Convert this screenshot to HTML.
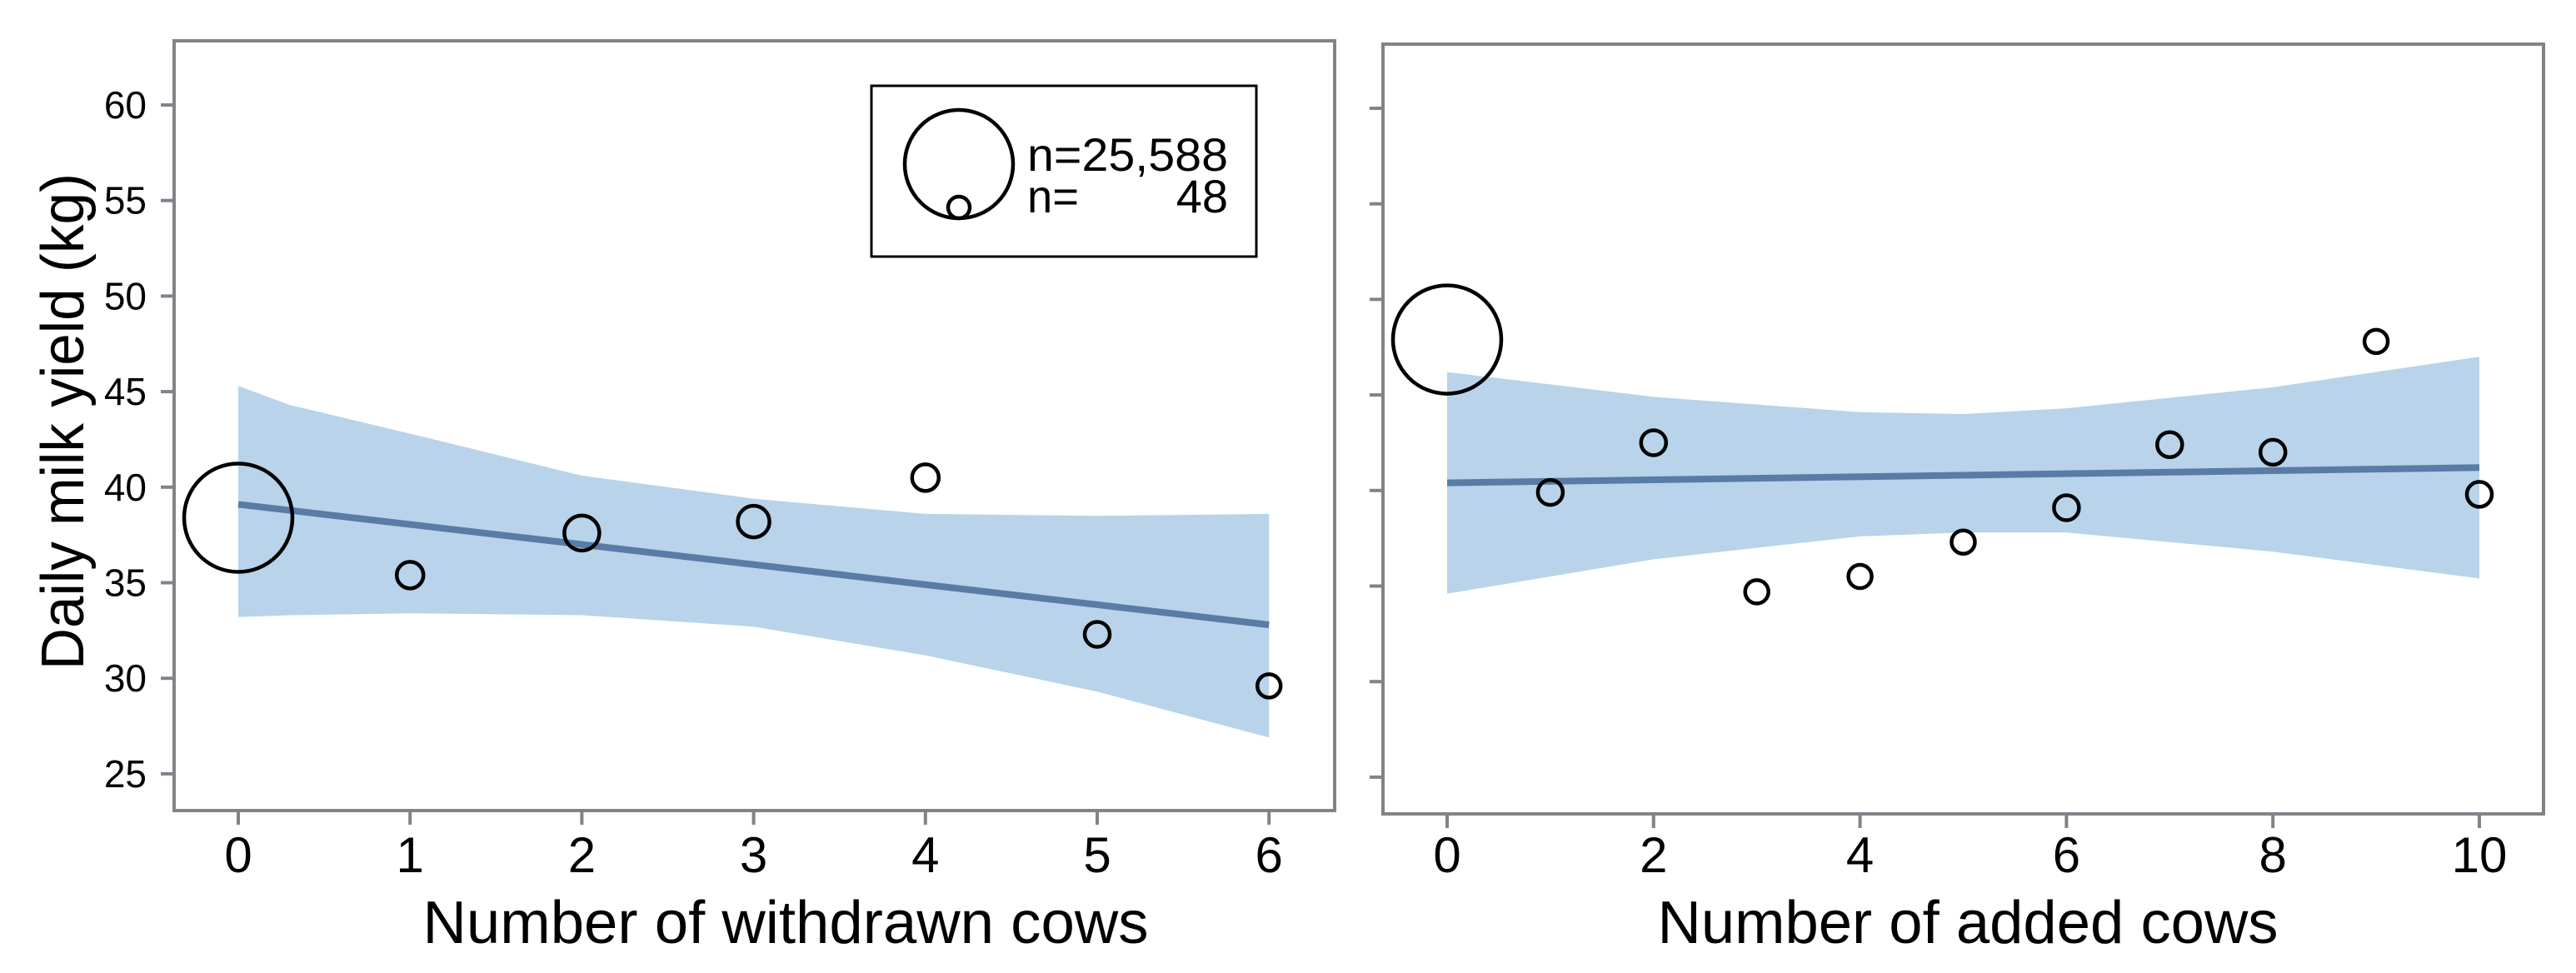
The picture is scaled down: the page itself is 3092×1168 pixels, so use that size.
<!DOCTYPE html>
<html><head><meta charset="utf-8"><style>
html,body{margin:0;padding:0;background:#fff;}
svg{display:block;font-family:"Liberation Sans",Arial,sans-serif;}
</style></head><body>
<svg id="chart" width="3092" height="1168" viewBox="0 0 3092 1168" xmlns="http://www.w3.org/2000/svg">
<rect x="0" y="0" width="3092" height="1168" fill="#fff"/>
<g id="left"></g>
<g id="right"></g>
<text x="0" y="0" font-size="72" text-anchor="middle" textLength="596" lengthAdjust="spacingAndGlyphs" transform="translate(100,506) rotate(-90)">Daily milk yield (kg)</text>
<text x="943" y="1132" font-size="72" text-anchor="middle" textLength="871" lengthAdjust="spacingAndGlyphs">Number of withdrawn cows</text>
<text x="2362" y="1132" font-size="72" text-anchor="middle" textLength="745" lengthAdjust="spacingAndGlyphs">Number of added cows</text>
<g>
<rect x="1046" y="103" width="462" height="205" fill="#fff" stroke="#000" stroke-width="3"/>
<circle cx="1151" cy="197" r="65" fill="none" stroke="#000" stroke-width="4.5"/>
<circle cx="1151" cy="249" r="13" fill="none" stroke="#000" stroke-width="4.5"/>
<text x="1233" y="205" font-size="56" textLength="241" lengthAdjust="spacingAndGlyphs">n=25,588</text>
<text x="1233" y="255" font-size="56" textLength="62" lengthAdjust="spacingAndGlyphs">n=</text>
<text x="1474" y="255" font-size="56" text-anchor="end">48</text>
</g>
</svg>
<script>
// Left panel data
const leftX = [0,1,2,3,4,5,6];
const leftY = [38.4,35.4,37.6,38.2,40.5,32.3,29.6];
const leftR = [65,16,21,19,16,15,14];
const leftLine = [39.1,32.8];
const leftBandX = [0,0.3,1,2,3,4,5,6];
const leftBandUpper = [45.3,44.3,42.8,40.6,39.4,38.6,38.5,38.6];
const leftBandLower = [33.2,33.3,33.4,33.3,32.7,31.2,29.3,26.9];
const leftXTicks = [0,1,2,3,4,5,6];
const yTicks = [25,30,35,40,45,50,55,60];
// Right panel data
const rightX = [0,1,2,3,4,5,6,7,8,9,10];
const rightY = [47.9,39.9,42.5,34.7,35.5,37.3,39.1,42.4,42.0,47.8,39.8];
const rightR = [65,15,15,14,14,14,15,15,15,14,15];
const rightLine = [40.4,41.2];
const rightBandX = [0,2,4,5,6,8,10];
const rightBandUpper = [46.2,44.9,44.1,44.0,44.3,45.4,47.0];
const rightBandLower = [34.6,36.4,37.6,37.8,37.8,36.8,35.4];
const rightXTicks = [0,2,4,6,8,10];

const NS="http://www.w3.org/2000/svg";
function mk(parent,tag,attrs){const e=document.createElementNS(NS,tag);for(const k in attrs)e.setAttribute(k,attrs[k]);parent.appendChild(e);return e;}

function panel(g,cfg,xs,ys,rs,line,bx,bu,bl,xticks,showYLabels,xmax){
  const sx=v=>cfg.x0+v*cfg.kx;
  const sy=v=>cfg.y60+(60-v)*cfg.ky;
  let d="";
  bx.forEach((v,i)=>{d+=(i?"L":"M")+sx(v)+","+sy(bu[i]);});
  for(let i=bx.length-1;i>=0;i--)d+="L"+sx(bx[i])+","+sy(bl[i]);
  const band=mk(g,"path",{d:d+"Z",fill:"#b8d3ea"});
  
  
  const ln=mk(g,"line",{x1:sx(0),y1:sy(line[0]),x2:sx(xmax),y2:sy(line[1]),stroke:"#587ca4","stroke-width":8});
  
  
  xs.forEach((v,i)=>{
    const c=mk(g,"circle",{cx:sx(v),cy:sy(ys[i]),r:rs[i],fill:"none",stroke:"#000","stroke-width":4.5});
    
    
  });
  const fr=mk(g,"rect",{x:cfg.fl,y:cfg.ft,width:cfg.fr-cfg.fl,height:cfg.fb-cfg.ft,fill:"none",stroke:"#808388","stroke-width":4});
  
  
  yTicks.forEach(t=>{
    const tk=mk(g,"line",{x1:cfg.fl-16,x2:cfg.fl,y1:sy(t),y2:sy(t),stroke:"#808388","stroke-width":4});
    
    
    if(showYLabels){
      const tx=mk(g,"text",{x:cfg.fl-33,y:sy(t)+16,"font-size":46,"text-anchor":"end"});
      tx.textContent=t;
      
      
    }
  });
  xticks.forEach(t=>{
    const tk=mk(g,"line",{x1:sx(t),x2:sx(t),y1:cfg.fb,y2:cfg.fb+17,stroke:"#808388","stroke-width":4});
    
    
    const tx=mk(g,"text",{x:sx(t),y:1047,"font-size":60,"text-anchor":"middle"});
    tx.textContent=t;
    
    
  });
}
panel(document.getElementById('left'),{x0:286,kx:206.2,y60:126,ky:22.94,fl:209,fr:1602,ft:49,fb:973},
  leftX,leftY,leftR,leftLine,leftBandX,leftBandUpper,leftBandLower,leftXTicks,true,6);
panel(document.getElementById('right'),{x0:1737,kx:123.9,y60:130,ky:22.94,fl:1660,fr:3053,ft:53,fb:977},
  rightX,rightY,rightR,rightLine,rightBandX,rightBandUpper,rightBandLower,rightXTicks,false,10);
</script>
</body></html>
